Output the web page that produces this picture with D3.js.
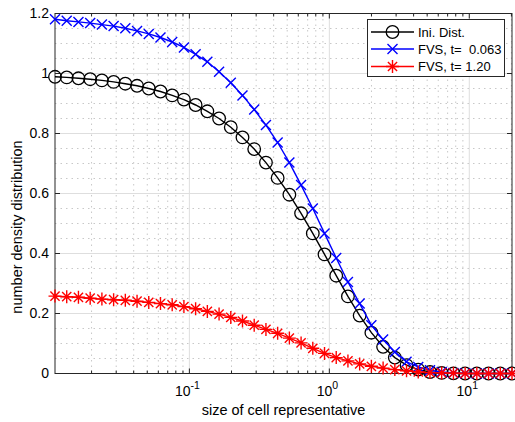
<!DOCTYPE html>
<html>
<head>
<meta charset="utf-8">
<script src="https://cdn.jsdelivr.net/npm/d3@7"></script>
<style>
  html, body { margin: 0; padding: 0; background: #fff; }
  svg { display: block; font-family: "Liberation Sans", Arial, Helvetica, sans-serif; }
</style>
</head>
<body>
<svg id="chart" width="515" height="422"></svg>
<script>
// Cell representative sizes (log-spaced grid)
const sizes = [0.01096, 0.01329, 0.01612, 0.01955, 0.02371, 0.02875, 0.03486, 0.04227,
  0.05126, 0.06216, 0.07537, 0.09139, 0.1108, 0.1344, 0.1630, 0.1976, 0.2396, 0.2905,
  0.3524, 0.4272, 0.5181, 0.6282, 0.7617, 0.9238, 1.120, 1.358, 1.647, 1.997, 2.422,
  2.937, 3.561, 4.318, 5.236, 6.350, 7.700, 9.338, 11.32, 13.73, 16.65, 20.19];

// Initial number density distribution
const initialDist = [0.989, 0.987, 0.984, 0.981, 0.977, 0.972, 0.966, 0.959, 0.950, 0.940,
  0.927, 0.913, 0.895, 0.874, 0.850, 0.821, 0.787, 0.748, 0.703, 0.652, 0.596, 0.534,
  0.467, 0.397, 0.326, 0.257, 0.193, 0.136, 0.089, 0.053, 0.028, 0.013, 0.005, 0.002,
  0.0005, 0.0001, 0, 0, 0, 0];

// FVS solution at t = 0.063
const fvsEarly = [1.181, 1.176, 1.172, 1.168, 1.163, 1.158, 1.151, 1.142, 1.132, 1.120,
  1.105, 1.087, 1.064, 1.039, 1.006, 0.969, 0.927, 0.880, 0.828, 0.770, 0.703, 0.628,
  0.550, 0.467, 0.385, 0.305, 0.233, 0.161, 0.113, 0.072, 0.039, 0.022, 0.011, 0.005,
  0.002, 0.001, 0, 0, 0, 0];

// FVS solution at t = 1.20
const fvsLate = [0.258, 0.256, 0.254, 0.251, 0.248, 0.246, 0.244, 0.241, 0.237, 0.233,
  0.229, 0.223, 0.216, 0.207, 0.198, 0.187, 0.175, 0.161, 0.147, 0.134, 0.118, 0.102,
  0.084, 0.067, 0.053, 0.042, 0.032, 0.024, 0.018, 0.013, 0.009, 0.005, 0.003, 0.002,
  0.001, 0, 0, 0, 0, 0];

const yTicks = [0, 0.2, 0.4, 0.6, 0.8, 1, 1.2];
const yTickLabels = ["0", "0.2", "0.4", "0.6", "0.8", "1", "1.2"];
const xDecades = [0.1, 1, 10];
const xDecadeExps = ["-1", "0", "1"];

const seriesNames = ["Ini. Dist.", "FVS, t=  0.063", "FVS, t= 1.20"];
const seriesColors = ["#000000", "#0000ff", "#ff0000"];
const seriesMarkers = ["circle", "cross", "star"];
const seriesValues = [initialDist, fvsEarly, fvsLate];

const svg = d3.select("#chart");
const L = 55, R = 512, T = 13.5, B = 373.5;

const x = d3.scaleLog().domain([sizes[0], sizes[sizes.length - 1]]).range([L, R]);
const y = d3.scaleLinear().domain([0, 1.2]).range([B, T]);

// minor tick positions on the log axis
const minorX = [];
for (const dec of [0.01, 0.1, 1, 10]) {
  for (let k = 2; k <= 9; k++) {
    const v = dec * k;
    if (v >= x.domain()[0] && v <= x.domain()[1]) minorX.push(v);
  }
}
const minorY = d3.range(0.05, 1.2, 0.05).filter(v => Math.abs(v / 0.2 - Math.round(v / 0.2)) > 1e-6);

const grid = svg.append("g");
// minor grid (dotted)
grid.selectAll("line.mx").data(minorX).join("line")
  .attr("x1", d => x(d)).attr("x2", d => x(d)).attr("y1", T).attr("y2", B)
  .attr("stroke", "#c8c8c8").attr("stroke-width", 1).attr("stroke-dasharray", "1.5,4");
grid.selectAll("line.my").data(minorY).join("line")
  .attr("x1", L).attr("x2", R).attr("y1", d => y(d)).attr("y2", d => y(d))
  .attr("stroke", "#c8c8c8").attr("stroke-width", 1).attr("stroke-dasharray", "1.5,4");
// major grid (solid light)
grid.selectAll("line.Mx").data(xDecades).join("line")
  .attr("x1", d => x(d)).attr("x2", d => x(d)).attr("y1", T).attr("y2", B)
  .attr("stroke", "#dedede").attr("stroke-width", 1);
grid.selectAll("line.My").data(yTicks.slice(1, -1)).join("line")
  .attr("x1", L).attr("x2", R).attr("y1", d => y(d)).attr("y2", d => y(d))
  .attr("stroke", "#dedede").attr("stroke-width", 1);

// axes with inward ticks on all four sides
const axisColor = "#262626";
const ax = svg.append("g").attr("stroke", axisColor).attr("stroke-width", 1);
ax.append("rect").attr("x", L).attr("y", T).attr("width", R - L).attr("height", B - T)
  .attr("fill", "none");
for (const v of xDecades) {
  ax.append("line").attr("x1", x(v)).attr("x2", x(v)).attr("y1", B).attr("y2", B - 5);
  ax.append("line").attr("x1", x(v)).attr("x2", x(v)).attr("y1", T).attr("y2", T + 5);
}
for (const v of minorX) {
  ax.append("line").attr("x1", x(v)).attr("x2", x(v)).attr("y1", B).attr("y2", B - 3);
  ax.append("line").attr("x1", x(v)).attr("x2", x(v)).attr("y1", T).attr("y2", T + 3);
}
for (const v of yTicks) {
  ax.append("line").attr("x1", L).attr("x2", L + 5).attr("y1", y(v)).attr("y2", y(v));
  ax.append("line").attr("x1", R).attr("x2", R - 5).attr("y1", y(v)).attr("y2", y(v));
}

// tick labels
const labels = svg.append("g").attr("fill", "#000").attr("font-size", 14);
yTicks.forEach((v, i) => {
  labels.append("text").attr("x", L - 6).attr("y", y(v)).attr("dy", "0.35em")
    .attr("text-anchor", "end").text(yTickLabels[i]);
});
xDecades.forEach((v, i) => {
  const t = labels.append("text").attr("x", x(v) - 2).attr("y", 396).attr("text-anchor", "middle");
  t.append("tspan").text("10");
  t.append("tspan").attr("dy", -7).attr("font-size", 10.5).text(xDecadeExps[i]);
});

// axis titles
svg.append("text").attr("x", (L + R) / 2).attr("y", 415).attr("text-anchor", "middle")
  .attr("font-size", 14.5).attr("fill", "#000").text("size of cell representative");
svg.append("text").attr("transform", "translate(22,227) rotate(-90)")
  .attr("text-anchor", "middle").attr("font-size", 14.5).attr("fill", "#000")
  .text("number density distribution");

// marker drawing
function drawMarker(g, type, color, cx, cy) {
  if (type === "circle") {
    g.append("circle").attr("cx", cx).attr("cy", cy).attr("r", 6.3)
      .attr("fill", "none").attr("stroke", color).attr("stroke-width", 1.3);
  } else if (type === "cross") {
    const s = 5;
    g.append("path").attr("d", `M${cx - s},${cy - s}L${cx + s},${cy + s}M${cx - s},${cy + s}L${cx + s},${cy - s}`)
      .attr("stroke", color).attr("stroke-width", 1.4).attr("fill", "none");
  } else {
    const s = 6.5, d = 4.6;
    g.append("path").attr("d", `M${cx},${cy - s}L${cx},${cy + s}M${cx - s},${cy}L${cx + s},${cy}` +
      `M${cx - d},${cy - d}L${cx + d},${cy + d}M${cx - d},${cy + d}L${cx + d},${cy - d}`)
      .attr("stroke", color).attr("stroke-width", 1.4).attr("fill", "none");
  }
}

const line = d3.line().x(d => x(d[0])).y(d => y(d[1]));
seriesValues.forEach((vals, si) => {
  const g = svg.append("g");
  const pts = sizes.map((s, i) => [s, vals[i]]);
  g.append("path").datum(pts).attr("d", line).attr("fill", "none")
    .attr("stroke", seriesColors[si]).attr("stroke-width", 1.4);
  pts.forEach(p => drawMarker(g, seriesMarkers[si], seriesColors[si], x(p[0]), y(p[1])));
});

// legend
const lg = svg.append("g");
lg.append("rect").attr("x", 367.5).attr("y", 19.5).attr("width", 137).attr("height", 57)
  .attr("fill", "#fff").attr("stroke", axisColor).attr("stroke-width", 1);
const rowY = [32, 49, 66.5];
seriesNames.forEach((name, i) => {
  lg.append("line").attr("x1", 371).attr("x2", 414).attr("y1", rowY[i]).attr("y2", rowY[i])
    .attr("stroke", seriesColors[i]).attr("stroke-width", 1.4);
  drawMarker(lg, seriesMarkers[i], seriesColors[i], 392.5, rowY[i]);
  lg.append("text").attr("x", 418).attr("y", rowY[i]).attr("dy", "0.36em")
    .attr("font-size", 13).attr("fill", "#000").attr("xml:space", "preserve")
    .style("white-space", "pre").text(name);
});
</script>
</body>
</html>
